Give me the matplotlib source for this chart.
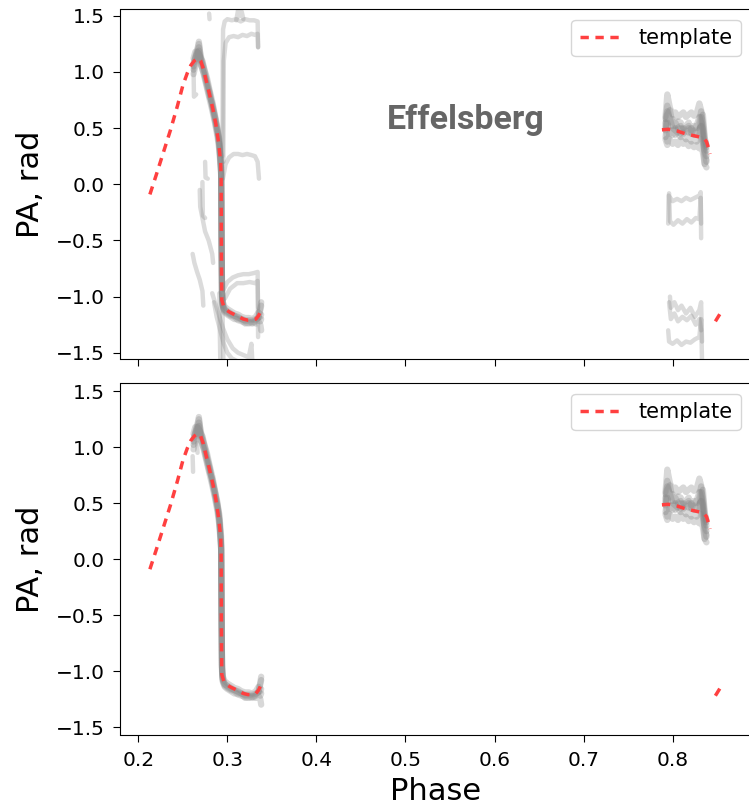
import numpy as np
import matplotlib
matplotlib.use("Agg")
import matplotlib.pyplot as plt

# ---------------- data ----------------
# template (red dashed), three pieces separated by NaN
tpl_phase = [0.213, 0.220, 0.228, 0.236, 0.244, 0.250, 0.255, 0.259, 0.263, 0.266,
             0.268, 0.270, 0.273, 0.276, 0.280, 0.284, 0.287, 0.290, 0.2925, 0.2930,
             0.2933, 0.2937, 0.296, 0.299, 0.303, 0.308, 0.313, 0.318, 0.323, 0.328,
             0.332, 0.335, 0.338, np.nan,
             0.788, 0.795, 0.805, 0.8125, 0.820, 0.828, 0.835, 0.838, 0.840, 0.842, np.nan,
             0.848, 0.855]
tpl_pa = [-0.09, 0.08, 0.28, 0.48, 0.70, 0.88, 0.99, 1.06, 1.10, 1.12,
          1.12, 1.10, 1.03, 0.93, 0.80, 0.66, 0.54, 0.38, 0.20, 0.05,
          -0.60, -1.03, -1.09, -1.12, -1.14, -1.16, -1.18, -1.20, -1.21, -1.21,
          -1.20, -1.17, -1.12, np.nan,
          0.485, 0.49, 0.475, 0.455, 0.44, 0.425, 0.41, 0.38, 0.33, 0.27, np.nan,
          -1.22, -1.13]

# main pulse band, leading component
band_phase_L = [0.262, 0.264, 0.266, 0.268, 0.270, 0.272, 0.274, 0.277, 0.280, 0.283,
                0.286, 0.289, 0.291, 0.2930, 0.2935, 0.2940, 0.2945, 0.2950, 0.297, 0.300,
                0.304, 0.308, 0.312, 0.316, 0.320, 0.324, 0.328, 0.332, 0.335, 0.337, 0.338]
band_L1 = [1.02, 1.10, 1.20, 1.25, 1.15, 1.08, 1.02, 0.92, 0.82, 0.70, 0.60, 0.47, 0.35, 0.15, -0.40,
           -0.95, -1.04, -1.08, -1.12, -1.13, -1.15, -1.17, -1.19, -1.20, -1.22, -1.22, -1.23, -1.21,
           -1.18, -1.10, -1.05]
band_L2 = [1.12, 1.18, 1.14, 1.22, 1.06, 1.03, 0.96, 0.86, 0.76, 0.66, 0.55, 0.42, 0.30, 0.08, -0.50,
           -0.98, -1.06, -1.09, -1.13, -1.15, -1.17, -1.18, -1.21, -1.22, -1.23, -1.24, -1.22, -1.24,
           -1.22, -1.25, -1.30]
band_L3 = [0.98, 1.05, 1.10, 1.27, 1.12, 1.10, 1.03, 0.95, 0.84, 0.74, 0.62, 0.50, 0.36, 0.12, -0.45,
           -0.96, -1.02, -1.05, -1.09, -1.11, -1.13, -1.15, -1.16, -1.18, -1.19, -1.19, -1.20, -1.18,
           -1.14, -1.18, -1.16]
band_L4 = [1.05, 1.14, 1.18, 1.16, 1.13, 1.02, 0.98, 0.88, 0.78, 0.72, 0.60, 0.48, 0.40, 0.20, -0.55,
           -1.00, -1.07, -1.10, -1.14, -1.16, -1.18, -1.20, -1.20, -1.21, -1.24, -1.23, -1.24, -1.22,
           -1.20, -1.22, -1.20]
band_L5 = [1.08, 1.12, 1.16, 1.19, 1.10, 1.07, 1.00, 0.90, 0.81, 0.69, 0.57, 0.45, 0.34, 0.10, -0.48,
           -0.97, -1.04, -1.07, -1.11, -1.14, -1.16, -1.17, -1.18, -1.20, -1.21, -1.21, -1.21, -1.20,
           -1.19, -1.12, -1.08]

# trailing component
band_phase_R = [0.792, 0.794, 0.797, 0.800, 0.803, 0.806, 0.809, 0.812, 0.815, 0.818,
                0.821, 0.824, 0.827, 0.830, 0.832, 0.834, 0.836, 0.838]
band_R1 = [0.60, 0.80, 0.68, 0.62, 0.64, 0.60, 0.62, 0.64, 0.60, 0.62, 0.64, 0.61, 0.63, 0.72, 0.66, 0.55, 0.40, 0.35]
band_R2 = [0.40, 0.35, 0.48, 0.44, 0.50, 0.45, 0.42, 0.46, 0.40, 0.42, 0.38, 0.41, 0.38, 0.42, 0.60, 0.45, 0.18, 0.22]
band_R3 = [0.50, 0.70, 0.55, 0.58, 0.52, 0.56, 0.55, 0.50, 0.52, 0.55, 0.48, 0.52, 0.50, 0.55, 0.65, 0.50, 0.35, 0.30]
band_R4 = [0.55, 0.38, 0.40, 0.36, 0.38, 0.35, 0.40, 0.36, 0.38, 0.34, 0.36, 0.33, 0.35, 0.32, 0.40, 0.28, 0.18, 0.15]
band_R5 = [0.48, 0.62, 0.66, 0.52, 0.55, 0.50, 0.45, 0.50, 0.47, 0.50, 0.46, 0.48, 0.44, 0.50, 0.45, 0.62, 0.42, 0.33]
band_R6 = [0.42, 0.55, 0.45, 0.48, 0.44, 0.50, 0.52, 0.45, 0.48, 0.46, 0.50, 0.44, 0.46, 0.48, 0.52, 0.38, 0.28, 0.20]
band_R7 = [0.58, 0.65, 0.58, 0.50, 0.48, 0.46, 0.50, 0.48, 0.50, 0.52, 0.45, 0.50, 0.52, 0.60, 0.55, 0.48, 0.30, 0.25]

# faint tracks only in the top (Effelsberg) panel
faint_top = [
    ([0.2945, 0.2948, 0.2952, 0.297, 0.300, 0.305, 0.310, 0.315, 0.320, 0.325, 0.330, 0.334, 0.3345],
     [0.25, 1.10, 1.38, 1.45, 1.47, 1.46, 1.47, 1.45, 1.47, 1.46, 1.46, 1.45, 1.22]),
    ([0.310, 0.312, 0.314, 0.316, 0.318], [1.46, 1.55, 1.50, 1.54, 1.47]),
    ([0.2955, 0.2960, 0.298, 0.302, 0.307, 0.312, 0.317, 0.322, 0.327, 0.331, 0.334, 0.3345],
     [0.20, 1.10, 1.26, 1.31, 1.32, 1.31, 1.33, 1.32, 1.34, 1.33, 1.34, 1.22]),
    ([0.2950, 0.298, 0.302, 0.307, 0.312, 0.317, 0.322, 0.327, 0.331, 0.334, 0.3355],
     [0.05, 0.18, 0.24, 0.27, 0.27, 0.26, 0.27, 0.26, 0.25, 0.20, 0.05]),
    ([0.261, 0.263, 0.266, 0.269, 0.272, 0.273], [-0.62, -0.70, -0.78, -0.85, -0.95, -1.08]),
    ([0.269, 0.2695, 0.272, 0.275, 0.279, 0.283, 0.284], [-0.05, -0.20, -0.30, -0.42, -0.50, -0.62, -0.70]),
    ([0.272, 0.2725, 0.275], [0.02, -0.28, -0.30]),
    ([0.275, 0.2755, 0.278], [0.20, 0.06, 0.05]),
    ([0.283, 0.286, 0.290, 0.295, 0.300, 0.306, 0.312, 0.318, 0.324, 0.327, 0.328],
     [-0.97, -1.05, -1.15, -1.28, -1.38, -1.46, -1.50, -1.52, -1.54, -1.42, -1.57]),
    ([0.285, 0.288, 0.292, 0.296, 0.300, 0.305, 0.310], [-1.05, -1.18, -1.30, -1.42, -1.50, -1.55, -1.57]),
    ([0.291, 0.2915, 0.292], [-0.97, -1.30, -1.55]),
    ([0.2945, 0.2950, 0.2955], [-1.05, -1.35, -1.57]),
    ([0.2955, 0.300, 0.306, 0.312, 0.318, 0.324, 0.330, 0.334, 0.3345],
     [-0.94, -0.87, -0.83, -0.81, -0.80, -0.80, -0.79, -0.78, -1.36]),
    ([0.297, 0.303, 0.311, 0.318, 0.325, 0.331, 0.334, 0.3345],
     [-1.02, -0.93, -0.88, -0.88, -0.87, -0.88, -0.86, -1.10]),
    ([0.262, 0.2625, 0.265], [1.04, 0.78, 0.80]),
    ([0.2795, 0.2800], [1.52, 1.47]),
    ([0.795, 0.7955, 0.800, 0.805, 0.810, 0.815, 0.820, 0.825, 0.830, 0.8315, 0.832],
     [-0.35, -0.10, -0.15, -0.13, -0.15, -0.12, -0.14, -0.12, -0.10, -0.07, -0.48]),
    ([0.796, 0.797, 0.801, 0.806, 0.811, 0.816, 0.821, 0.826, 0.830, 0.8315, 0.832],
     [-0.08, -0.33, -0.36, -0.32, -0.35, -0.31, -0.34, -0.30, -0.31, -0.12, -0.35]),
    ([0.797, 0.798, 0.802, 0.806, 0.810, 0.815, 0.820, 0.825, 0.830, 0.832, 0.833],
     [-1.00, -1.10, -1.05, -1.12, -1.08, -1.15, -1.10, -1.18, -1.12, -1.05, -1.40]),
    ([0.796, 0.798, 0.802, 0.806, 0.811, 0.816, 0.821, 0.826, 0.830, 0.832],
     [-1.05, -1.20, -1.15, -1.22, -1.18, -1.21, -1.17, -1.25, -1.20, -1.30]),
    ([0.795, 0.796, 0.800, 0.805, 0.810, 0.815, 0.820, 0.825, 0.830, 0.832, 0.833],
     [-1.30, -1.40, -1.42, -1.39, -1.43, -1.40, -1.41, -1.38, -1.36, -1.20, -1.57]),
]

# faint bits in the bottom panel
faint_bottom = [
    ([0.261, 0.2615], [0.92, 0.78]),
    ([0.266, 0.2665], [1.04, 0.95]),
]

x_ticks = [0.2, 0.3, 0.4, 0.5, 0.6, 0.7, 0.8]
y_ticks = [-1.5, -1.0, -0.5, 0.0, 0.5, 1.0, 1.5]

# ---------------- plotting ----------------
W, H = 749, 807
fig = plt.figure(figsize=(W / 100, H / 100), dpi=100)

left = 120.5 / W
width = 630.5 / W
ax1 = fig.add_axes([left, (H - 359.3) / H, width, 350 / H])
ax2 = fig.add_axes([left, (H - 735) / H, width, 351.7 / H], sharex=ax1)

tpl_color = (1.0, 0.25, 0.25)
faint_kw = dict(color="gray", alpha=0.28, lw=3.2, solid_capstyle="round")
band_kw = dict(color="gray", alpha=0.3, lw=4.5, solid_capstyle="round")

bands_L = [band_L1, band_L2, band_L3, band_L4, band_L5]
bands_R = [band_R1, band_R2, band_R3, band_R4, band_R5, band_R6, band_R7]

for ax, faint in ((ax1, faint_top), (ax2, faint_bottom)):
    for xs, ys in faint:
        ax.plot(xs, ys, **faint_kw)
    for b in bands_L:
        ax.plot(band_phase_L, b, **band_kw)
    for b in bands_R:
        ax.plot(band_phase_R, b, **band_kw)
    ax.plot(tpl_phase, tpl_pa, color=tpl_color, lw=2.5, dashes=(2.4, 1.9),
            label="template")
    ax.set_xlim(0.18, 0.888)
    ax.set_yticks(y_ticks)
    ax.set_ylabel("PA, rad", fontsize=22, labelpad=8)
    ax.tick_params(axis="both", labelsize=14.5, length=5.3, pad=6)
    ax.legend(loc="upper right", fontsize=15)
    ax.spines["right"].set_visible(False)

ax1.set_ylim(-1.558, 1.558)
ax2.set_ylim(-1.5708, 1.5708)
ax2.set_xticks(x_ticks)
ax2.set_xlabel("Phase", fontsize=22, labelpad=5)
ax1.tick_params(axis="x", labelbottom=False)

ax1.text(0.548, 0.684, "Effelsberg", transform=ax1.transAxes, ha="center", va="center",
         fontsize=24.5, fontweight="bold", family="Roboto", color="#666666")

fig.savefig("out.png", dpi=100)
